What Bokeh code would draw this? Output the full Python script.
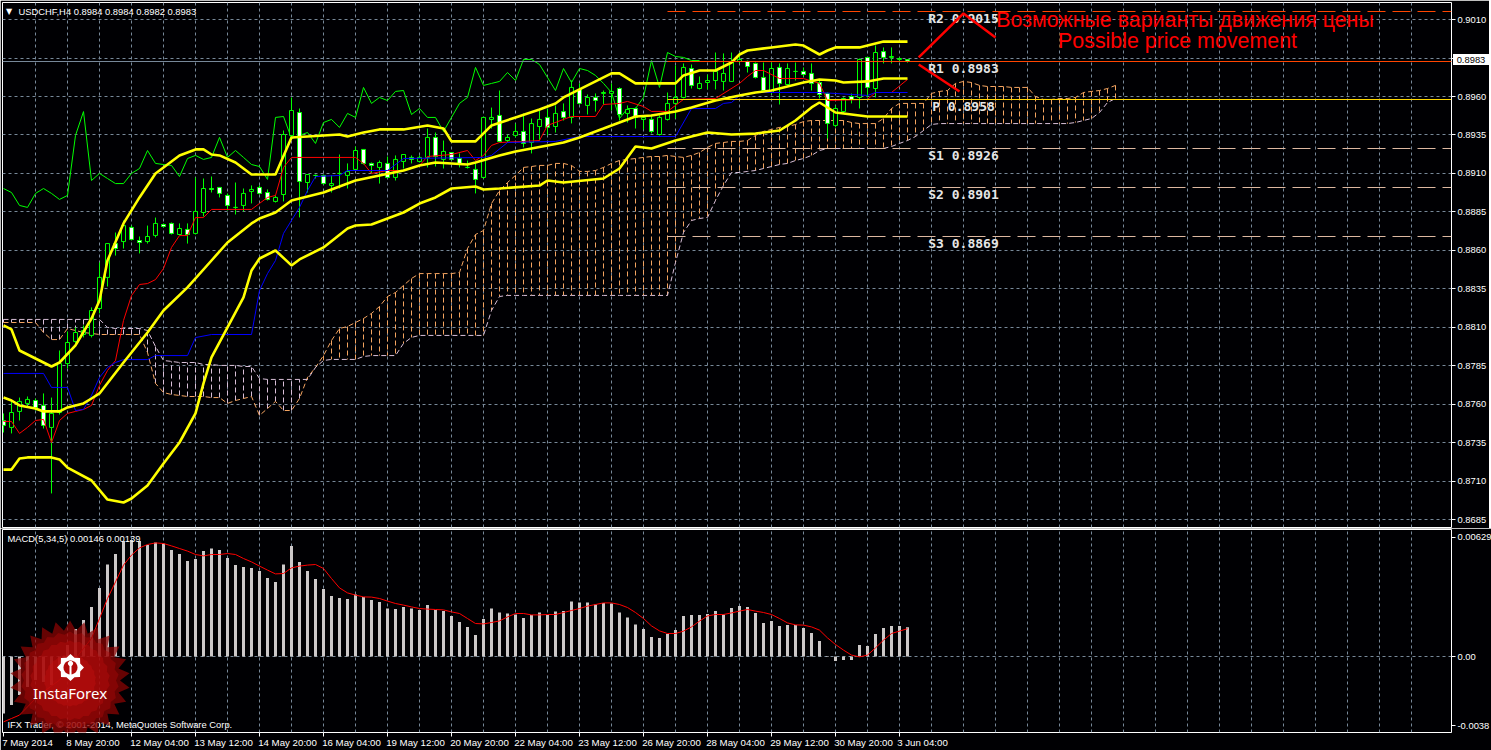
import math
from bokeh.plotting import figure
from bokeh.layouts import column
from bokeh.models import (Range1d, FixedTicker, Grid, Label, PolyAnnotation, Div)
from bokeh.core.properties import value
from bokeh.embed import file_html
from bokeh.resources import INLINE

# ---------------- data ----------------
opens = [.87494,.87449,.87553,.87605,.87624,.87592,.87449,.87546,.87864,.88008,.88053,.88047,.88222,.88424,.88644,.88657,.88749,.88664,.88657,.88697,
 .88768,.88775,.88703,.88736,.88710,.88846,.89002,.89009,.88957,.88879,.88892,.88983,.89009,.88976,.88918,.88963,.89347,.89496,.89041,.89087,
 .89087,.89022,.89100,.89087,.89126,.89256,.89165,.89139,.89165,.89074,.89178,.89204,.89178,.89204,.89334,.89191,.89236,.89197,.89139,.89126,
 .89074,.89451,.89477,.89314,.89347,.89373,.89301,.89405,.89464,.89405,.89502,.89464,.89646,.89542,.89594,.89620,.89620,.89652,.89490,.89522,
 .89451,.89451,.89353,.89451,.89555,.89594,.89782,.89652,.89691,.89704,.89698,.89698,.89828,.89828,.89815,.89724,.89626,.89789,.89678,.89763,
 .89763,.89750,.89691,.89620,.89412,.89502,.89600,.89594,.89854,.89652,.89892,.89854,.89841,.8984]
highs = [.87540,.87624,.87643,.87650,.87637,.87670,.87643,.87949,.88073,.88099,.88112,.88229,.88521,.88644,.88716,.88794,.88761,.88690,.88761,.88813,
 .88775,.88781,.88775,.88775,.89074,.89067,.89080,.89009,.88970,.89041,.89002,.89022,.89022,.88996,.88957,.89379,.89594,.89522,.89093,.89093,
 .89093,.89087,.89223,.89165,.89275,.89256,.89171,.89184,.89210,.89217,.89223,.89217,.89217,.89392,.89366,.89314,.89236,.89230,.89184,.89165,
 .89464,.89528,.89639,.89353,.89424,.89490,.89457,.89509,.89522,.89542,.89555,.89704,.89685,.89613,.89620,.89639,.89685,.89659,.89542,.89528,
 .89477,.89483,.89477,.89626,.89802,.89815,.89808,.89730,.89743,.89886,.89880,.89886,.89886,.89834,.89821,.89821,.89821,.89815,.89815,.89821,
 .89789,.89815,.89704,.89626,.89542,.89594,.89620,.89847,.89854,.89932,.89919,.89919,.89854,.8984]
lows = [.87416,.87410,.87494,.87585,.87559,.87442,.87020,.87533,.87832,.87995,.88034,.88034,.88190,.88365,.88566,.88612,.88664,.88580,.88644,.88684,
 .88749,.88703,.88697,.88644,.88703,.88820,.88976,.88944,.88859,.88833,.88853,.88905,.88963,.88924,.88911,.88918,.89327,.88814,.88976,.89067,
 .89028,.88976,.89002,.89002,.89119,.89158,.89100,.89034,.89067,.89054,.89132,.89165,.89171,.89139,.89145,.89132,.89184,.89139,.89132,.88970,
 .89067,.89392,.89301,.89301,.89334,.89269,.89230,.89314,.89347,.89366,.89444,.89425,.89548,.89483,.89502,.89548,.89509,.89444,.89431,.89392,
 .89386,.89360,.89347,.89444,.89457,.89587,.89652,.89646,.89646,.89646,.89639,.89698,.89815,.89756,.89717,.89626,.89613,.89548,.89672,.89704,
 .89730,.89639,.89587,.89327,.89399,.89490,.89555,.89522,.89594,.89594,.89815,.89815,.89828,.8982]
closes = [.87462,.87546,.87618,.87631,.87578,.87462,.87540,.87864,.88001,.88066,.88079,.88209,.88424,.88644,.88612,.88761,.88671,.88651,.88690,.88775,
 .88755,.88710,.88742,.88703,.88853,.89002,.88996,.88970,.88892,.88879,.88970,.88996,.88970,.88931,.88944,.89353,.89509,.89048,.89093,.89087,
 .89034,.89034,.89100,.89113,.89249,.89165,.89152,.89171,.89074,.89191,.89223,.89191,.89204,.89334,.89210,.89243,.89191,.89158,.89139,.89061,
 .89464,.89464,.89308,.89334,.89373,.89295,.89424,.89451,.89399,.89490,.89464,.89659,.89555,.89594,.89574,.89626,.89633,.89483,.89516,.89464,
 .89464,.89373,.89464,.89555,.89594,.89789,.89672,.89685,.89704,.89763,.89750,.89828,.89841,.89795,.89724,.89639,.89782,.89685,.89782,.89763,
 .89743,.89685,.89613,.89425,.89522,.89587,.89581,.89841,.89659,.89886,.89854,.89860,.89847,.8983]

upper_bars = [0,1,2,4,6,7,9,11,12,13,15,17,19,22,24,25,26,27,29,31,34,36,42,43,45,47,50,53,55,56,59,61,64,67,69,70,73,76,77,79,84,85,87,89,91,92,93,96,99,100,102,103,104,107,110,113]
upper_vals = [.88112,.88086,.87949,.87897,.87845,.87871,.87982,.88157,.88274,.88534,.88775,.88944,.89100,.89217,.89256,.89256,.89223,.89217,.89171,.89093,.89093,.89334,.89353,.89340,.89366,.89386,.89386,.89412,.89392,.89308,.89308,.89412,.89464,.89516,.89555,.89594,.89672,.89750,.89750,.89685,.89685,.89737,.89769,.89769,.89821,.89873,.89899,.89919,.89938,.89931,.89873,.89899,.89919,.89919,.89957,.89957]
mid_bars = [0,1,2,4,5,7,8,10,11,12,15,18,20,23,26,28,31,32,34,36,40,44,47,50,52,54,56,58,59,62,64,68,70,72,75,79,81,84,86,89,92,94,96,100,102,104,105,108,110,113]
mid_vals = [.87643,.87624,.87592,.87572,.87553,.87553,.87579,.87605,.87637,.87670,.87871,.88066,.88209,.88359,.88534,.88651,.88775,.88807,.88846,.88924,.88976,.89054,.89087,.89119,.89152,.89171,.89165,.89158,.89171,.89217,.89243,.89282,.89301,.89334,.89392,.89470,.89477,.89503,.89529,.89574,.89607,.89626,.89639,.89691,.89711,.89704,.89691,.89698,.89717,.89717]
lower_bars = [0,1,2,3,6,7,8,11,13,15,16,18,20,22,24,25,26,28,30,31,32,34,36,37,40,43,44,46,50,52,54,56,59,60,62,67,68,70,75,77,78,79,81,84,88,91,94,97,99,101,102,104,108,113]
lower_vals = [.87175,.87175,.87247,.87254,.87254,.87241,.87188,.87104,.86980,.86961,.86987,.87072,.87215,.87351,.87540,.87735,.87904,.88099,.88294,.88469,.88547,.88599,.88502,.88541,.88619,.88742,.88761,.88768,.88846,.88904,.88944,.89002,.89015,.88995,.89002,.89021,.89054,.89041,.89067,.89132,.89204,.89275,.89262,.89314,.89366,.89353,.89359,.89379,.89444,.89529,.89561,.89496,.89470,.89470]

chikou = [.89002,.88976,.88892,.88879,.88970,.89002,.88970,.88931,.88957,.89347,.89502,.89054,.89100,.89067,.89034,.89034,.89100,.89132,.89249,.89165,.89158,.89152,.89080,.89197,.89217,.89191,.89204,.89334,.89204,.89249,.89204,.89158,.89145,.89061,.89464,.89470,.89327,.89347,.89366,.89295,.89431,.89451,.89399,.89490,.89464,.89659,.89555,.89594,.89574,.89633,.89639,.89483,.89522,.89464,.89464,.89373,.89464,.89555,.89594,.89789,.89672,.89685,.89698,.89756,.89704,.89841,.89841,.89808,.89724,.89639,.89782,.89691,.89782,.89769,.89737,.89685,.89626,.89457,.89522,.89522,.89594,.89834,.89659,.89886,.89860,.89854,.89834,.89834]

tenkan_bars = [0,1,2,3,4,5,6,7,8,9,10,11,12,13,14,15,16,17,18,19,20,21,22,23,24,25,26,31,32,33,34,35,36,44,45,46,48,50,52,53,56,58,59,60,61,62,65,67,68,70,71,74,75,77,78,80,81,83,85,89,92,93,94,95,97,100,102,103,108,109,111,113]
tenkan_vals = [.87488,.87488,.87410,.87449,.87494,.87501,.87351,.87494,.87540,.87553,.87566,.87592,.87722,.87819,.87884,.88144,.88306,.88378,.88384,.88410,.88482,.88619,.88696,.88696,.88813,.88813,.88866,.88866,.88905,.88944,.88957,.89139,.89204,.89204,.89165,.89100,.89119,.89119,.89152,.89210,.89223,.89249,.89184,.89217,.89282,.89301,.89308,.89314,.89412,.89451,.89470,.89470,.89548,.89555,.89568,.89535,.89503,.89503,.89581,.89587,.89685,.89730,.89769,.89769,.89717,.89717,.89685,.89574,.89581,.89626,.89626,.89711]
kijun_bars = [0,5,6,8,9,10,11,12,13,14,15,18,19,23,24,26,31,32,33,34,35,37,38,39,42,43,48,50,60,61,63,69,72,84,86,89,90,91,92,94,102,108,109,113]
kijun_vals = [.87800,.87800,.87709,.87709,.87559,.87566,.87657,.87774,.87839,.87871,.87890,.87890,.87916,.87916,.88033,.88053,.88053,.88339,.88449,.88534,.88710,.88879,.88989,.89080,.89087,.89119,.89119,.89197,.89204,.89217,.89301,.89308,.89340,.89340,.89522,.89522,.89555,.89561,.89607,.89626,.89626,.89607,.89626,.89626]

senkou_a = [.88131,.88131,.88131,.88131,.88131,.88066,.88020,.88020,.88092,.88079,.88066,.88060,.88053,.88053,.88053,.88053,.88053,.88053,.87936,.87735,
 .87676,.87663,.87657,.87650,.87650,.87650,.87643,.87643,.87605,.87624,.87637,.87650,.87527,.87572,.87618,.87559,.87559,.87637,.87774,.87839,
 .87916,.88014,.88092,.88105,.88131,.88157,.88190,.88235,.88300,.88326,.88372,.88417,.88449,.88449,.88449,.88449,.88449,.88456,.88612,.88703,
 .88729,.88904,.88989,.89041,.89087,.89139,.89145,.89152,.89152,.89165,.89165,.89152,.89113,.89113,.89119,.89139,.89165,.89184,.89191,.89197,
 .89204,.89210,.89210,.89217,.89210,.89204,.89217,.89236,.89269,.89295,.89301,.89308,.89308,.89314,.89347,.89373,.89386,.89399,.89405,.89418,
 .89437,.89444,.89444,.89444,.89444,.89444,.89431,.89424,.89424,.89424,.89457,.89522,.89555,.89555,.89555,.89555,.89620,.89633,.89639,.89685,
 .89698,.89691,.89672,.89665,.89665,.89665,.89659,.89659,.89659,.89600,.89581,.89581,.89587,.89587,.89594,.89626,.89633,.89639,.89652,.89672]
senkou_b = [.88151]*13 + [.88099,.88092,.88092,.88092,.88092,.88079,.87975,.87884,.87878,.87871,.87871,.87871,.87858,.87858,.87852,.87852,.87852,.87845,.87845,
 .87767] + [.87761]*6 + [.87839,.87884,.87891,.87891,.87891,.87891,.87910,.87916,.87916,.87916,.87916,.87995,.88034] + [.88047]*9 + [.88209,.88300] + [.88307]*21 + [
 .88521,.88716,.88794,.88807,.88814,.88924,.89022,.89106,.89106,.89113,.89119,.89132,.89145,.89158,.89165,.89184,.89197,.89217,.89249] + [.89262]*8 + [
 .89275,.89295,.89314,.89340,.89379,.89418] + [.89424]*17 + [.89431,.89444,.89457,.89496,.89561,.89587]

macd_hist = [-.00285,-.00243,-.00193,-.00152,-.00118,-.00127,-.00143,-.00052,.00057,.00137,.00182,.00248,.00343,.00460,.00512,.00577,.00582,.00578,.00557,.00570,
 .00565,.00532,.00512,.00477,.00487,.00527,.00540,.00532,.00493,.00457,.00447,.00443,.00427,.00393,.00373,.00460,.00552,.00473,.00427,.00387,
 .00337,.00303,.00293,.00287,.00310,.00298,.00282,.00272,.00240,.00237,.00248,.00240,.00232,.00257,.00233,.00227,.00203,.00172,.00147,.00107,
 .00187,.00240,.00220,.00215,.00210,.00192,.00208,.00220,.00207,.00225,.00227,.00275,.00270,.00270,.00260,.00268,.00265,.00220,.00195,.00160,
 .00137,.00097,.00092,.00112,.00132,.00202,.00207,.00207,.00212,.00227,.00210,.00242,.00252,.00247,.00217,.00167,.00177,.00152,.00157,.00157,
 .00142,.00117,.00077,-.00002,-.00023,-.00018,-.00018,.00057,.00052,.00112,.00142,.00152,.00152,.00146]
macd_signal = [-.00327,-.0031,-.00293,-.00252,-.0021,-.00177,-.00147,-.00118,-.00068,-.0001,.0004,.0009,.0019,.0029,.00373,.00457,.00507,.00543,.0056,.00568,
 .00565,.00553,.0054,.00527,.0051,.00503,.0051,.0051,.00515,.0051,.0049,.00473,.00452,.00432,.00413,.00415,.00443,.00452,.00457,.0046,
 .0044,.0039,.00343,.00318,.00307,.00298,.00297,.0029,.00277,.00265,.00257,.00248,.0024,.00237,.00235,.00233,.00223,.00215,.0019,.00165,
 .00163,.0017,.00178,.00198,.00215,.00215,.00208,.00208,.0021,.0021,.0022,.0023,.0024,.00252,.0026,.00268,.00268,.0026,.00245,.0022,
 .0019,.00153,.00128,.00115,.00115,.00127,.00148,.00177,.00203,.0021,.0021,.00218,.00227,.00235,.00227,.0022,.0021,.0019,.00168,.00158,
 .00157,.00148,.00132,.00093,.0006,.00032,.00007,-.00002,.00007,.00043,.00082,.00115,.00127,.00139]

price_ticks = [.9010,.8985,.8960,.8935,.8910,.8885,.8860,.8835,.8810,.8785,.8760,.8735,.8710,.8685]
time_tick_bars = [0,8,16,24,32,40,48,56,64,72,80,88,96,104,112]
time_labels = ["7 May 2014","8 May 20:00","12 May 04:00","13 May 12:00","14 May 20:00","16 May 04:00","19 May 12:00","20 May 20:00",
               "22 May 04:00","23 May 12:00","26 May 20:00","28 May 04:00","29 May 12:00","30 May 20:00","3 Jun 04:00"]
time_label_px = [50,53,58,58,58,58,58,58,58,58,58,58,58,58,48]
pivot_names = ["R2","R1","P","S1","S2","S3"]
pivot_vals = [.9015,.8983,.8958,.8926,.8901,.8869]
arrow_up_bars = [114.4,120,124]
arrow_up_vals = [.89854,.90140,.89984]
arrow_down_bars = [114.4,119.5]
arrow_down_vals = [.89808,.89633]
last_price = .8983

assert all(len(a) == 114 for a in (opens, highs, lows, closes, macd_hist, macd_signal))
assert len(senkou_a) == 140 and len(senkou_b) == 140, (len(senkou_a), len(senkou_b))

# ---------------- scales ----------------
BAR0_PX, BAR_PX = 3.0, 8.0
FRAME_L, FRAME_R = 2, 1451
PRICE_TOP, PRICE_BOT = .90211, .867985
PRICE_PER_PX = (PRICE_TOP - PRICE_BOT) / 525
MACD_TOP, MACD_BOT = .00635, -.0038
GRID = "#778899"
UI_FONT = "Liberation Sans"
UI_SIZE = "9.4px"
X_SIZE = "9.7px"
bars = list(range(114))
def xr():
    return Range1d((FRAME_L - BAR0_PX) / BAR_PX, (FRAME_R - BAR0_PX) / BAR_PX)
x_of_px = lambda px: (px - BAR0_PX) / BAR_PX
# rule lines sit on whole pixel rows, as on the terminal's screen
snap = lambda v: PRICE_TOP - round((PRICE_TOP - v) / PRICE_PER_PX) * PRICE_PER_PX

def base(height, frame_h, yr, top, bottom, x_loc):
    f = figure(width=1491, height=height, frame_width=FRAME_R - FRAME_L, frame_height=frame_h,
               x_range=xr(), y_range=yr, x_axis_location=x_loc, y_axis_location="right",
               toolbar_location=None, output_backend="svg",
               min_border_left=FRAME_L, min_border_right=0, min_border_top=top, min_border_bottom=bottom,
               background_fill_color="#000003", border_fill_color="#000003")
    f.outline_line_color = "white"; f.outline_line_width = 1; f.outline_line_alpha = 1
    f.grid.visible = False
    ax = f.yaxis[0]
    ax.axis_line_color = None
    ax.major_tick_line_color = "white"; ax.major_tick_out = 4; ax.major_tick_in = 0
    ax.minor_tick_line_color = None
    ax.major_label_text_color = "white"; ax.major_label_text_font = UI_FONT
    ax.major_label_text_font_size = UI_SIZE; ax.major_label_standoff = 2
    f.add_layout(Grid(dimension=0, ticker=FixedTicker(ticks=list(range(4, 180, 4))),
                      grid_line_color=GRID, grid_line_dash="3 3", grid_line_width=1))
    return f

# ---------------- main panel ----------------
p = base(528, 525, Range1d(PRICE_BOT, PRICE_TOP), 2, 1, None)
p.yaxis[0].ticker = FixedTicker(ticks=price_ticks)
p.yaxis[0].major_label_overrides = {t: f"{t:.4f}" for t in price_ticks}
p.add_layout(Grid(dimension=1, ticker=FixedTicker(ticks=[snap(t) for t in price_ticks]), grid_line_color=GRID,
                  grid_line_dash="3 3", grid_line_width=1))

cloud_bars = list(range(140))
hatch_colors = ["#F4A460" if a >= b else "#D8BFD8" for a, b in zip(senkou_a, senkou_b)]
p.segment(cloud_bars, senkou_a, cloud_bars, senkou_b, line_color=hatch_colors, line_dash="5 3", line_width=1)
p.line(cloud_bars, senkou_a, line_color="#F4A460", line_dash="5 3", line_width=1)
p.line(cloud_bars, senkou_b, line_color="#D8BFD8", line_dash="5 3", line_width=1)

p.line(list(range(len(chikou))), chikou, line_color="#00FF00", line_width=1)

body_top = [max(o, c) for o, c in zip(opens, closes)]
body_bot = [min(o, c) for o, c in zip(opens, closes)]
body_fill = ["white" if c < o else "black" for o, c in zip(opens, closes)]
p.segment(bars, highs, bars, lows, line_color="#00FF00", line_width=1)
p.vbar(x=bars, top=body_top, bottom=body_bot, width=4 / BAR_PX, fill_color=body_fill,
       line_color="#00FF00", line_width=1)

p.line(tenkan_bars, tenkan_vals, line_color="#FF0000", line_width=1)
p.line(kijun_bars, kijun_vals, line_color="#0000FF", line_width=1)
for bx, vals in ((upper_bars, upper_vals), (mid_bars, mid_vals), (lower_bars, lower_vals)):
    p.line(bx, vals, line_color="#FFFF00", line_width=2.6)

# level lines
LEVEL_START = x_of_px(667)
LEVEL_END = x_of_px(FRAME_R)
p.line([x_of_px(FRAME_L), LEVEL_END], [snap(last_price)] * 2, line_color=GRID, line_width=1)
p.line([LEVEL_START, LEVEL_END], [snap(pivot_vals[1])] * 2, line_color="#FF4500", line_width=1)
p.line([LEVEL_START, LEVEL_END], [snap(pivot_vals[0])] * 2, line_color="#FF4500", line_width=1, line_dash="18 7")
p.line([LEVEL_START, LEVEL_END], [snap(pivot_vals[2])] * 2, line_color="#FFD700", line_width=1)
for v in pivot_vals[3:]:
    p.line([LEVEL_START, LEVEL_END], [snap(v)] * 2, line_color="#DDB8A0", line_width=1, line_dash="18 7")

p.text(x=[x_of_px(963)] * 6, y=pivot_vals, text=[f"{n} {v:.4f}" for n, v in zip(pivot_names, pivot_vals)],
       text_color="#E6E6E6", text_font=value("DejaVu Sans Mono"), text_font_style="bold", text_font_size="13px",
       text_baseline="middle", text_align="center", y_offset=7)
p.line(arrow_up_bars, arrow_up_vals, line_color="#FF0000", line_width=2.5)
p.line(arrow_down_bars, arrow_down_vals, line_color="#FF0000", line_width=2.5)
p.text(x=[x_of_px(1184.5), x_of_px(1177)], y=[.9010, .8996],
       text=["Возможные варианты движения цены", "Possible price movement"],
       text_color="#FF0000", text_font=value("Liberation Sans"), text_font_size="21.4px",
       text_align="center", text_baseline="middle")

p.add_layout(Label(x=x_of_px(18), y=.90224 - 10.5 * .000065, text="USDCHF,H4  0.8984 0.8984 0.8982 0.8983", text_color="white",
                   text_font=UI_FONT, text_font_size=UI_SIZE, text_baseline="middle"))
p.add_layout(Label(x=x_of_px(5.5), y=.90224 - 10.5 * .000065, text="▼", text_color="white",
                   text_font="DejaVu Sans", text_font_size="8px", text_baseline="middle"))

# ---------------- MACD panel ----------------
macd_tick_vals = [.00597, 0.0, -.00345]
macd_tick_text = ["0.00629", "0.00", "-0.0038"]
m = base(222, 203, Range1d(MACD_BOT, MACD_TOP), 1, 18, "below")
m.yaxis[0].ticker = FixedTicker(ticks=macd_tick_vals)
m.yaxis[0].major_label_overrides = dict(zip(macd_tick_vals, macd_tick_text))
m.add_layout(Grid(dimension=1, ticker=FixedTicker(ticks=[0.0]), grid_line_color=GRID,
                  grid_line_dash="3 3", grid_line_width=1))
xa = m.xaxis[0]
centers = [b + (w / 2 - 1) / BAR_PX for b, w in zip(time_tick_bars, time_label_px)]
xa.ticker = FixedTicker(ticks=centers, minor_ticks=time_tick_bars)
xa.major_label_overrides = dict(zip(centers, time_labels))
xa.axis_line_color = None
xa.major_tick_line_color = None; xa.major_tick_out = 0; xa.major_tick_in = 0
xa.minor_tick_line_color = "white"; xa.minor_tick_out = 4; xa.minor_tick_in = 0
xa.major_label_text_color = "white"; xa.major_label_text_font = UI_FONT
xa.major_label_text_font_size = X_SIZE; xa.major_label_standoff = 0

m.vbar(x=bars, top=macd_hist, bottom=0, width=3 / BAR_PX, fill_color="#CCC8C8", line_color=None)
m.line(bars, macd_signal, line_color="#FF0000", line_width=1)

y_of_px = lambda py: (656 - py) / 20000
m.add_layout(Label(x=x_of_px(7), y=y_of_px(538), text="MACD(5,34,5) 0.00146 0.00139", text_color="white",
                   text_font=UI_FONT, text_font_size=UI_SIZE, text_baseline="middle"))
m.add_layout(Label(x=x_of_px(7), y=y_of_px(724), text="IFX Trader, © 2001-2014, MetaQuotes Software Corp.", text_color="white",
                   text_font=UI_FONT, text_font_size=UI_SIZE, text_baseline="middle"))

def star(cx, cy, r_out, r_in, n):
    xs, ys = [], []
    for k in range(2 * n):
        r = r_out if k % 2 == 0 else r_in
        a = math.pi * k / n
        xs.append(x_of_px(cx + r * math.sin(a)))
        ys.append(y_of_px(cy - r * math.cos(a)))
    return xs, ys

CX, CY = 69.5, 680
for r_o, r_i, col, al in ((60, 50, "#8E0404", .72), (49, 46, "#A80808", .45), (40, 38, "#BC0C0C", .4), (26, 25, "#CC1010", .35)):
    xs, ys = star(CX, CY, r_o, r_i, 26)
    m.add_layout(PolyAnnotation(xs=xs, ys=ys, fill_color=col, fill_alpha=al, line_color=None))
xs, ys = star(70, 667, 13.5, 10.5, 8)
m.add_layout(PolyAnnotation(xs=xs, ys=ys, fill_color="white", fill_alpha=1, line_color=None))
xs, ys = star(70, 667, 7, 7, 12)
m.add_layout(PolyAnnotation(xs=xs, ys=ys, fill_color="#B00A0A", fill_alpha=1, line_color=None))
xs, ys = star(70, 663, 2.6, 2.6, 8)
m.add_layout(PolyAnnotation(xs=xs, ys=ys, fill_color="white", fill_alpha=1, line_color=None))
m.add_layout(PolyAnnotation(xs=[x_of_px(69), x_of_px(71), x_of_px(71), x_of_px(69)],
                            ys=[y_of_px(664), y_of_px(664), y_of_px(675), y_of_px(675)],
                            fill_color="white", fill_alpha=1, line_color=None))
m.add_layout(Label(x=x_of_px(69.5), y=y_of_px(692), text="InstaForex", text_color="white", text_font="Noto Sans",
                   text_font_size="15px", text_align="center", text_baseline="middle"))

price_box = Div(text=f"{last_price:.4f}", width=36, height=11, margin=0,
                styles={"position": "absolute", "left": "1453px", "top": "54px", "background": "white", "color": "black",
                        "font": f"{UI_SIZE} '{UI_FONT}'", "line-height": "11px", "text-align": "center", "z-index": "10"})
page = column(p, m, price_box, spacing=0, margin=(0, 0, 0, 0))
open("out.html", "w").write(file_html(page, INLINE))
